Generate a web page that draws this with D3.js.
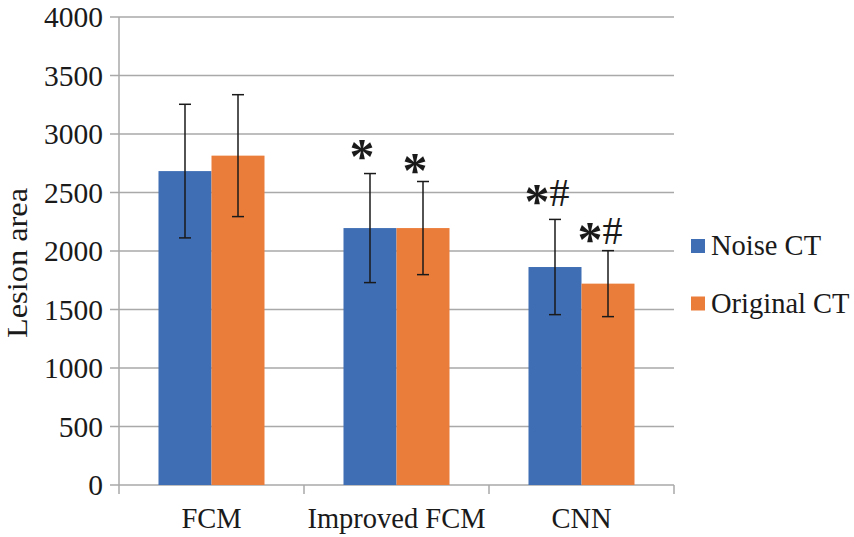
<!DOCTYPE html>
<html>
<head>
<meta charset="utf-8">
<script src="https://cdn.jsdelivr.net/npm/d3@7"></script>
<style>
  body { margin: 0; background: #fff; }
</style>
</head>
<body>
<script>
// chart values
const categories = ["FCM", "Improved FCM", "CNN"];
const seriesNames = ["Noise CT", "Original CT"];
const noiseValues = [2683, 2196, 1863];
const noiseErrors = [571, 466, 407];
const originalValues = [2815, 2196, 1721];
const originalErrors = [521, 398, 282];
const noiseMarks = ["", "*", "*#"];
const originalMarks = ["", "*", "*#"];
const yTicks = [0, 500, 1000, 1500, 2000, 2500, 3000, 3500, 4000];

const colors = ["#3f6eb5", "#eb7d3a"];
const FONT = "'Liberation Serif', Tinos, 'Times New Roman', serif";

let margin, width, height, svg, x, xInner, y;

setupCanvasSize();
appendSvg("body");
setupScales();
appendGrid();
appendAxes();
appendBars();
appendLegend();

function setupCanvasSize() {
  margin = {top: 17, left: 119, bottom: 52, right: 180};
  width = 854 - margin.left - margin.right;
  height = 537 - margin.top - margin.bottom;
}

function appendSvg(domElement) {
  svg = d3.select(domElement).append("svg")
    .attr("width", 854)
    .attr("height", 537)
    .attr("font-family", FONT)
    .append("g")
    .attr("transform", `translate(${margin.left}, ${margin.top})`);
}

function setupScales() {
  x = d3.scaleBand().domain(categories).range([0, width]);
  // bars fill ~57% of each band (Excel gap width 150%)
  const groupW = x.bandwidth() * 0.573;
  xInner = d3.scaleBand().domain(seriesNames).range([0, groupW]);
  y = d3.scaleLinear().domain([0, 4000]).range([height, 0]);
}

function appendGrid() {
  svg.append("g")
    .selectAll("line")
    .data(yTicks)
    .enter()
    .append("line")
    .attr("x1", -9)
    .attr("x2", width)
    .attr("y1", d => y(d))
    .attr("y2", d => y(d))
    .attr("stroke", "#a9a9a9")
    .attr("stroke-width", 1.5);
}

function label(sel, size) {
  return sel.attr("font-family", FONT)
    .attr("font-size", size)
    .attr("fill", "#1a1a1a");
}

function appendAxes() {
  // y axis line + labels
  svg.append("line")
    .attr("x1", 0).attr("x2", 0)
    .attr("y1", 0).attr("y2", height)
    .attr("stroke", "#a9a9a9").attr("stroke-width", 1.5);

  label(svg.append("g")
    .selectAll("text")
    .data(yTicks)
    .enter()
    .append("text")
    .attr("x", -16)
    .attr("y", d => y(d))
    .attr("dy", "0.34em")
    .attr("text-anchor", "end"), 29.5)
    .text(d => d);

  // x axis ticks
  const edges = categories.map(c => x(c)).concat([width]);
  svg.append("g")
    .selectAll("line")
    .data(edges)
    .enter()
    .append("line")
    .attr("x1", d => d).attr("x2", d => d)
    .attr("y1", height).attr("y2", height + 9)
    .attr("stroke", "#a9a9a9").attr("stroke-width", 1.5);

  label(svg.append("g")
    .selectAll("text")
    .data(categories)
    .enter()
    .append("text")
    .attr("x", d => x(d) + x.bandwidth() / 2)
    .attr("y", height + 43)
    .attr("text-anchor", "middle"), 28.5)
    .text(d => d);

  label(svg.append("text")
    .attr("transform", `translate(${27 - margin.left}, ${263 - margin.top}) rotate(-90)`)
    .attr("text-anchor", "middle")
    .attr("textLength", 150)
    .attr("lengthAdjust", "spacingAndGlyphs"), 28.5)
    .text("Lesion area");
}

function appendBars() {
  const series = [
    {name: seriesNames[0], values: noiseValues, errors: noiseErrors, marks: noiseMarks, gap: 13},
    {name: seriesNames[1], values: originalValues, errors: originalErrors, marks: originalMarks, gap: 7}
  ];
  const offset = (x.bandwidth() - xInner.range()[1]) / 2;

  series.forEach((s, si) => {
    const rows = categories.map((c, i) => ({
      cat: c, v: s.values[i], e: s.errors[i], m: s.marks[i]
    }));
    const g = svg.append("g");
    const bx = d => x(d.cat) + offset + xInner(s.name);
    const cx = d => bx(d) + xInner.bandwidth() / 2;

    g.selectAll("rect")
      .data(rows)
      .enter()
      .append("rect")
      .attr("x", bx)
      .attr("y", d => y(d.v))
      .attr("width", xInner.bandwidth())
      .attr("height", d => height - y(d.v))
      .attr("fill", colors[si]);

    const err = g.selectAll("g.err")
      .data(rows)
      .enter()
      .append("g")
      .attr("class", "err")
      .attr("stroke", "#1a1a1a")
      .attr("stroke-width", 1.5);
    err.append("line")
      .attr("x1", cx).attr("x2", cx)
      .attr("y1", d => y(d.v + d.e)).attr("y2", d => y(d.v - d.e));
    err.append("line")
      .attr("x1", d => cx(d) - 6).attr("x2", d => cx(d) + 6)
      .attr("y1", d => y(d.v + d.e)).attr("y2", d => y(d.v + d.e));
    err.append("line")
      .attr("x1", d => cx(d) - 6).attr("x2", d => cx(d) + 6)
      .attr("y1", d => y(d.v - d.e)).attr("y2", d => y(d.v - d.e));

    // significance marks: big bold asterisk lowered, thin '#'
    const marks = label(g.selectAll("text")
      .data(rows.filter(d => d.m))
      .enter()
      .append("text")
      .attr("x", d => cx(d) - 8)
      .attr("y", d => y(d.v + d.e) - s.gap)
      .attr("text-anchor", "middle"), 40);
    marks.append("tspan")
      .attr("font-size", 50)
      .attr("font-weight", "bold")
      .attr("dy", 12)
      .text("*");
    marks.filter(d => d.m.includes("#"))
      .append("tspan")
      .attr("dy", -12)
      .text("#");
  });
}

function appendLegend() {
  const lg = svg.append("g")
    .attr("transform", `translate(${691 - margin.left}, ${239 - margin.top})`);
  const items = lg.selectAll("g")
    .data(seriesNames)
    .enter()
    .append("g")
    .attr("transform", (d, i) => `translate(0, ${i * 57.5})`);
  items.append("rect")
    .attr("width", 14).attr("height", 14)
    .attr("fill", (d, i) => colors[i]);
  label(items.append("text")
    .attr("x", 20)
    .attr("y", 16), 28.5)
    .text(d => d);
}
</script>
</body>
</html>
